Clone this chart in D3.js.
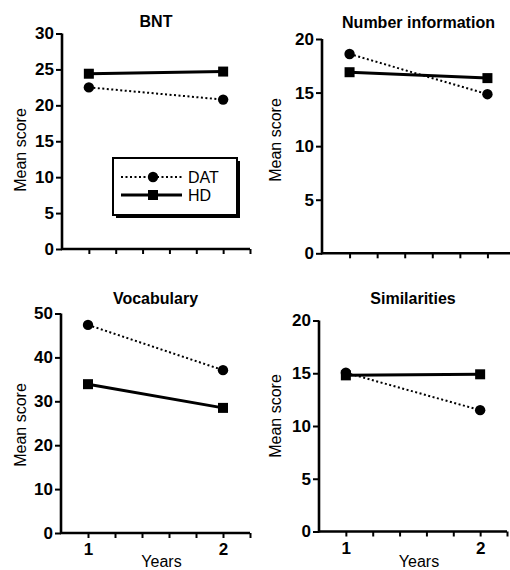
<!DOCTYPE html>
<html>
<head>
<meta charset="utf-8">
<script src="https://cdn.jsdelivr.net/npm/d3@7"></script>
<style>
  html, body { margin: 0; padding: 0; background: #fff; }
  svg { display: block; }
  text { font-family: "Liberation Sans", Arial, sans-serif; fill: #000; }
</style>
</head>
<body>
<svg id="chart" width="510" height="570"></svg>
<script>
// ---- data ----
const categories = ["BNT", "Number information", "Vocabulary", "Similarities"];
const years = [1, 2];
const xTickValues = [1.0, 1.2, 1.4, 1.6, 1.8, 2.0, 2.2];
const xTickLabels = ["1", "", "", "", "", "2", ""];
const seriesNames = ["DAT", "HD"];
const datValues = [[22.5, 20.8], [18.6, 14.85], [47.4, 37.1], [15.05, 11.5]];
const hdValues = [[24.4, 24.7], [16.9, 16.35], [33.9, 28.5], [14.8, 14.9]];
const yMaxes = [30, 20, 50, 20];
const yTickValues = [
  [0, 5, 10, 15, 20, 25, 30],
  [0, 5, 10, 15, 20],
  [0, 10, 20, 30, 40, 50],
  [0, 5, 10, 15, 20]
];
const xAxisTitle = "Years";
const yAxisTitle = "Mean score";

// ---- layout ----
const layout = [
  { xr: [62, 250], yr: [249, 33.5], titleY: 27, ylab: [26, 150], showX: false, legend: true },
  { xr: [322, 515], yr: [253.3, 39], titleY: 28, ylab: [281, 140], showX: false, legend: false },
  { xr: [61, 250], yr: [533, 313.5], titleY: 303.5, ylab: [26, 425], showX: true, legend: false },
  { xr: [319, 507], yr: [531.5, 320.5], titleY: 304, ylab: [281, 416], showX: true, legend: false }
];

const svg = d3.select("#chart");

function drawCircle(g, cx, cy) {
  g.append("circle").attr("cx", cx).attr("cy", cy).attr("r", 5.2).attr("fill", "#000");
}
function drawSquare(g, cx, cy) {
  g.append("rect").attr("x", cx - 5).attr("y", cy - 5).attr("width", 10).attr("height", 10).attr("fill", "#000");
}

categories.forEach((cat, i) => {
  const L = layout[i];
  const g = svg.append("g");
  const x = d3.scaleLinear().domain([0.8, 2.2]).range(L.xr);
  const y = d3.scaleLinear().domain([0, yMaxes[i]]).range(L.yr);

  // y axis
  const ya = g.append("g").attr("transform", `translate(${L.xr[0]},0)`)
    .call(d3.axisLeft(y).tickValues(yTickValues[i]).tickSize(6).tickPadding(2).tickFormat(d3.format("d")));
  ya.select(".domain").attr("stroke", "#000").attr("stroke-width", 2.6).attr("d", `M0,${L.yr[1]}V${L.yr[0] + 1}`);
  ya.selectAll(".tick line").attr("stroke", "#000").attr("stroke-width", 2);
  ya.selectAll(".tick text").style("font-size", "17px").style("font-weight", "bold")
    .style("font-family", '"Liberation Sans", Arial, sans-serif');

  // x axis
  const xa = g.append("g").attr("transform", `translate(0,${L.yr[0]})`)
    .call(d3.axisBottom(x).tickValues(xTickValues).tickSize(5).tickPadding(5)
      .tickFormat((d, k) => L.showX ? xTickLabels[k] : ""));
  xa.select(".domain").attr("stroke", "#000").attr("stroke-width", 2.6).attr("d", `M${L.xr[0] - 1},0H${L.xr[1]}`);
  xa.selectAll(".tick line").attr("stroke", "#000").attr("stroke-width", 2);
  xa.selectAll(".tick text").style("font-size", "17px").style("font-weight", "bold")
    .style("font-family", '"Liberation Sans", Arial, sans-serif');

  // title
  g.append("text").attr("x", (L.xr[0] + L.xr[1]) / 2).attr("y", L.titleY)
    .attr("text-anchor", "middle").style("font-size", "16px").style("font-weight", "bold").text(cat);

  // y label
  g.append("text").attr("transform", `translate(${L.ylab[0]},${L.ylab[1]}) rotate(-90)`)
    .attr("text-anchor", "middle").style("font-size", "16px").text(yAxisTitle);

  // x label
  if (L.showX) {
    g.append("text").attr("x", (L.xr[0] + L.xr[1]) / 2 + 6).attr("y", 567)
      .attr("text-anchor", "middle").style("font-size", "16px").text(xAxisTitle);
  }

  const line = d3.line().x((d, k) => x(years[k])).y(d => y(d));

  // HD
  g.append("path").datum(hdValues[i]).attr("d", line).attr("fill", "none")
    .attr("stroke", "#000").attr("stroke-width", 3);
  // DAT
  g.append("path").datum(datValues[i]).attr("d", line).attr("fill", "none")
    .attr("stroke", "#000").attr("stroke-width", 2).attr("stroke-dasharray", "2,2.5");

  hdValues[i].forEach((v, k) => drawSquare(g, x(years[k]), y(v)));
  datValues[i].forEach((v, k) => drawCircle(g, x(years[k]), y(v)));

  if (L.legend) {
    const lg = g.append("g");
    lg.append("rect").attr("x", 116).attr("y", 161).attr("width", 124).attr("height", 57).attr("fill", "#000");
    lg.append("rect").attr("x", 113).attr("y", 158).attr("width", 124).attr("height", 57)
      .attr("fill", "#fff").attr("stroke", "#000").attr("stroke-width", 2);
    const rows = [177, 195];
    seriesNames.forEach((name, k) => {
      const ry = rows[k];
      const p = lg.append("line").attr("x1", 121).attr("x2", 182).attr("y1", ry).attr("y2", ry).attr("stroke", "#000");
      if (name === "DAT") { p.attr("stroke-width", 2).attr("stroke-dasharray", "2,2.5"); drawCircle(lg, 153, ry); }
      else { p.attr("stroke-width", 3); drawSquare(lg, 153, ry); }
      lg.append("text").attr("x", 188).attr("y", ry + 5.5).style("font-size", "16px").text(name);
    });
  }
});
</script>
</body>
</html>
